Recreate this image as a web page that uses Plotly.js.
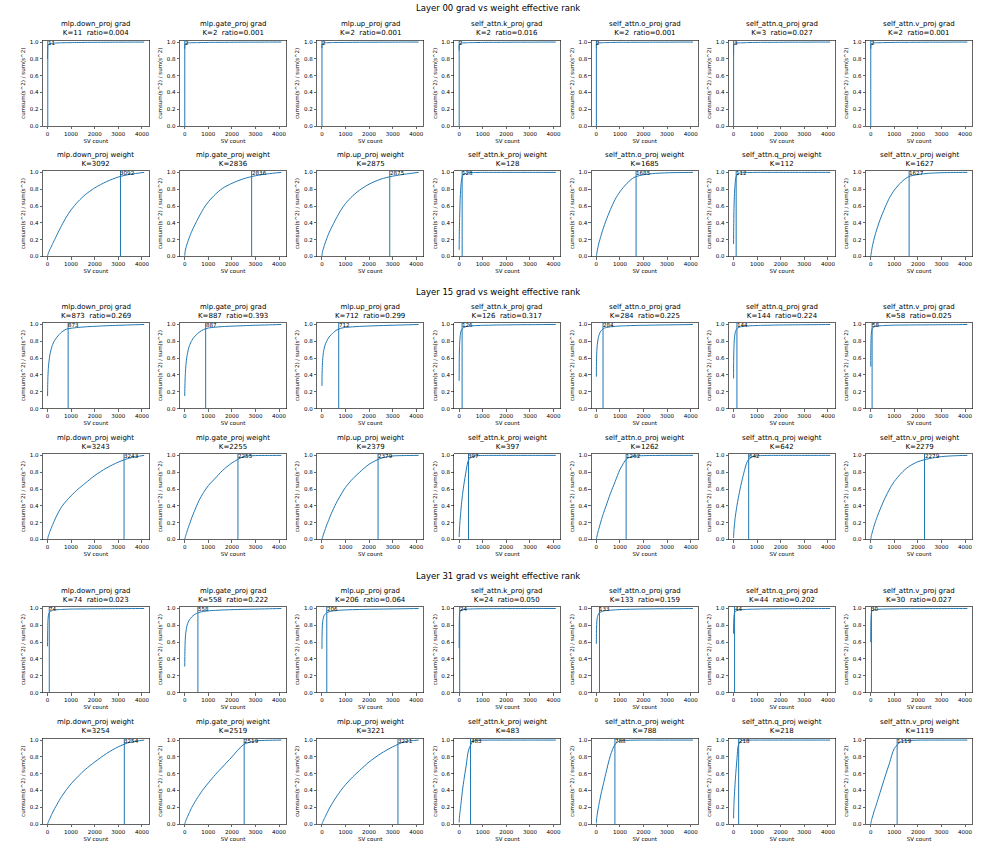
<!DOCTYPE html>
<html><head><meta charset="utf-8">
<script src="https://cdn.plot.ly/plotly-3.0.1.min.js"></script>
<style>html,body{margin:0;padding:0;background:#fff}</style>
</head><body><div id="chart" style="width:996px;height:847px"></div>
<script>
// ---- data ----
const SV_X = [1,5,10,20,40,70,100,150,200,300,400,600,800,1000,1300,1600,2000,2500,3000,3500,4096];
const MODULES = ['mlp.down_proj','mlp.gate_proj','mlp.up_proj','self_attn.k_proj','self_attn.o_proj','self_attn.q_proj','self_attn.v_proj'];
const LAYERS = ['00','15','31'];

const L00_GRAD_K = [11,2,2,2,2,3,2];
const L00_GRAD_RATIO = [0.004,0.001,0.001,0.016,0.001,0.027,0.001];
const L00_WEIGHT_K = [3092,2836,2875,128,1685,112,1627];
const L15_GRAD_K = [873,887,712,126,284,144,58];
const L15_GRAD_RATIO = [0.269,0.393,0.299,0.317,0.225,0.224,0.025];
const L15_WEIGHT_K = [3243,2255,2379,397,1262,642,2279];
const L31_GRAD_K = [74,558,206,24,133,44,30];
const L31_GRAD_RATIO = [0.023,0.222,0.064,0.050,0.159,0.202,0.027];
const L31_WEIGHT_K = [3254,2519,3221,483,788,218,1119];

const L00_GRAD_Y = [
  [0.80,0.90,0.945,0.962,0.972,0.978,0.981,0.984,0.986,0.988,0.99,0.992,0.993,0.994,0.995,0.996,0.997,0.998,0.999,0.9995,1],
  [0.92,0.965,0.973,0.979,0.984,0.987,0.989,0.99,0.991,0.992,0.993,0.994,0.995,0.996,0.997,0.997,0.998,0.999,0.999,1,1],
  [0.93,0.968,0.975,0.98,0.985,0.988,0.99,0.991,0.992,0.993,0.994,0.995,0.996,0.996,0.997,0.998,0.998,0.999,0.999,1,1],
  [0.90,0.96,0.97,0.977,0.982,0.986,0.988,0.99,0.991,0.992,0.993,0.994,0.995,0.996,0.997,0.997,0.998,0.999,0.999,1,1],
  [0.93,0.97,0.977,0.982,0.986,0.989,0.99,0.991,0.992,0.993,0.994,0.995,0.996,0.997,0.997,0.998,0.998,0.999,0.999,1,1],
  [0.85,0.955,0.966,0.974,0.98,0.984,0.987,0.989,0.99,0.991,0.992,0.994,0.995,0.996,0.997,0.997,0.998,0.999,0.999,1,1],
  [0.92,0.965,0.973,0.979,0.984,0.987,0.989,0.99,0.991,0.992,0.993,0.994,0.995,0.996,0.997,0.997,0.998,0.999,0.999,1,1]
];
const L00_WEIGHT_Y = [
  [0.005,0.012,0.018,0.026,0.042,0.062,0.082,0.112,0.142,0.2,0.258,0.37,0.47,0.555,0.655,0.735,0.815,0.89,0.945,0.977,1],
  [0.01,0.03,0.042,0.062,0.09,0.122,0.15,0.19,0.23,0.3,0.36,0.47,0.57,0.65,0.74,0.81,0.87,0.925,0.96,0.982,1],
  [0.005,0.02,0.03,0.05,0.075,0.1,0.13,0.17,0.21,0.28,0.34,0.45,0.55,0.63,0.72,0.79,0.86,0.92,0.955,0.978,1],
  [0.08,0.2,0.3,0.45,0.65,0.82,0.91,0.96,0.98,0.99,0.995,0.998,0.999,1,1,1,1,1,1,1,1],
  [0.002,0.01,0.02,0.04,0.07,0.11,0.15,0.2,0.25,0.34,0.42,0.56,0.68,0.77,0.87,0.94,0.972,0.988,0.995,0.998,1],
  [0.15,0.3,0.42,0.57,0.75,0.87,0.94,0.97,0.985,0.993,0.996,0.998,0.999,1,1,1,1,1,1,1,1],
  [0.002,0.01,0.02,0.04,0.075,0.12,0.16,0.22,0.27,0.36,0.44,0.58,0.7,0.79,0.885,0.948,0.975,0.99,0.996,0.999,1]
];
const L15_GRAD_Y = [
  [0.15,0.25,0.32,0.4,0.5,0.58,0.64,0.7,0.75,0.81,0.85,0.91,0.945,0.955,0.965,0.972,0.978,0.985,0.99,0.995,1],
  [0.15,0.24,0.3,0.38,0.48,0.57,0.63,0.7,0.75,0.81,0.85,0.905,0.94,0.958,0.968,0.975,0.98,0.986,0.991,0.995,1],
  [0.27,0.38,0.45,0.53,0.61,0.68,0.72,0.77,0.8,0.85,0.88,0.93,0.955,0.965,0.972,0.977,0.982,0.987,0.991,0.995,1],
  [0.33,0.55,0.66,0.76,0.85,0.91,0.935,0.955,0.965,0.975,0.98,0.985,0.988,0.99,0.992,0.994,0.995,0.997,0.998,0.999,1],
  [0.38,0.52,0.6,0.68,0.76,0.82,0.86,0.9,0.925,0.952,0.962,0.972,0.978,0.982,0.985,0.988,0.99,0.993,0.995,0.997,1],
  [0.36,0.55,0.65,0.75,0.84,0.9,0.93,0.952,0.962,0.972,0.977,0.982,0.986,0.988,0.99,0.992,0.994,0.996,0.997,0.998,1],
  [0.5,0.7,0.79,0.87,0.925,0.955,0.965,0.972,0.977,0.982,0.985,0.988,0.99,0.992,0.993,0.994,0.995,0.996,0.997,0.998,1]
];
const L15_WEIGHT_Y = [
  [0.002,0.008,0.014,0.025,0.045,0.07,0.095,0.13,0.165,0.23,0.29,0.39,0.46,0.52,0.6,0.67,0.76,0.85,0.92,0.97,1],
  [0.002,0.008,0.014,0.025,0.045,0.07,0.1,0.14,0.18,0.26,0.33,0.46,0.56,0.64,0.73,0.82,0.91,0.985,0.998,0.999,1],
  [0.002,0.007,0.012,0.022,0.04,0.065,0.09,0.13,0.17,0.24,0.31,0.43,0.53,0.62,0.72,0.8,0.895,0.965,0.993,0.998,1],
  [0.03,0.07,0.1,0.15,0.23,0.33,0.42,0.55,0.65,0.82,0.945,0.99,0.997,0.999,1,1,1,1,1,1,1],
  [0.002,0.008,0.015,0.03,0.055,0.09,0.12,0.17,0.22,0.31,0.39,0.55,0.69,0.83,0.962,0.99,0.997,0.999,1,1,1],
  [0.02,0.05,0.08,0.12,0.18,0.26,0.32,0.41,0.49,0.63,0.75,0.935,0.985,0.995,0.999,1,1,1,1,1,1],
  [0.003,0.01,0.02,0.035,0.06,0.09,0.12,0.17,0.21,0.29,0.36,0.49,0.6,0.69,0.79,0.865,0.925,0.963,0.985,0.995,1]
];
const L31_GRAD_Y = [
  [0.55,0.72,0.8,0.87,0.92,0.948,0.96,0.97,0.976,0.982,0.985,0.989,0.991,0.993,0.994,0.995,0.996,0.997,0.998,0.999,1],
  [0.31,0.45,0.53,0.62,0.7,0.76,0.8,0.84,0.865,0.9,0.925,0.953,0.965,0.972,0.978,0.982,0.986,0.99,0.993,0.996,1],
  [0.52,0.66,0.73,0.8,0.86,0.9,0.92,0.937,0.949,0.96,0.967,0.975,0.98,0.983,0.986,0.988,0.991,0.993,0.995,0.997,1],
  [0.53,0.8,0.89,0.945,0.97,0.98,0.985,0.988,0.99,0.992,0.993,0.995,0.996,0.997,0.998,0.998,0.999,0.999,1,1,1],
  [0.58,0.72,0.78,0.84,0.89,0.92,0.94,0.953,0.96,0.97,0.975,0.98,0.984,0.987,0.99,0.992,0.994,0.996,0.997,0.998,1],
  [0.7,0.82,0.87,0.91,0.947,0.962,0.97,0.976,0.98,0.984,0.987,0.99,0.992,0.993,0.995,0.996,0.997,0.998,0.999,0.999,1],
  [0.6,0.8,0.87,0.92,0.96,0.975,0.98,0.985,0.988,0.99,0.992,0.994,0.995,0.996,0.997,0.998,0.998,0.999,0.999,1,1]
];
const L31_WEIGHT_Y = [
  [0.002,0.006,0.01,0.018,0.032,0.05,0.068,0.1,0.13,0.185,0.235,0.33,0.41,0.48,0.57,0.65,0.74,0.84,0.92,0.975,1],
  [0.002,0.007,0.012,0.02,0.036,0.057,0.077,0.11,0.14,0.2,0.25,0.34,0.42,0.49,0.59,0.68,0.8,0.947,0.99,0.997,1],
  [0.001,0.005,0.009,0.016,0.03,0.048,0.065,0.095,0.125,0.18,0.23,0.32,0.4,0.47,0.56,0.64,0.74,0.84,0.92,0.98,1],
  [0.02,0.05,0.07,0.1,0.15,0.22,0.3,0.42,0.52,0.7,0.88,0.99,0.997,0.999,1,1,1,1,1,1,1],
  [0.01,0.03,0.05,0.08,0.12,0.17,0.22,0.29,0.36,0.48,0.6,0.82,0.952,0.99,0.997,0.999,1,1,1,1,1],
  [0.07,0.13,0.18,0.25,0.36,0.5,0.62,0.79,0.935,0.99,0.997,0.999,1,1,1,1,1,1,1,1,1],
  [0.003,0.01,0.018,0.03,0.055,0.085,0.11,0.16,0.2,0.29,0.38,0.56,0.73,0.9,0.985,0.995,0.999,1,1,1,1]
];

// ---- build ----
const ROWS = [
  {kind:'grad',   K:L00_GRAD_K,   ratio:L00_GRAD_RATIO, Y:L00_GRAD_Y},
  {kind:'weight', K:L00_WEIGHT_K, ratio:null,           Y:L00_WEIGHT_Y},
  {kind:'grad',   K:L15_GRAD_K,   ratio:L15_GRAD_RATIO, Y:L15_GRAD_Y},
  {kind:'weight', K:L15_WEIGHT_K, ratio:null,           Y:L15_WEIGHT_Y},
  {kind:'grad',   K:L31_GRAD_K,   ratio:L31_GRAD_RATIO, Y:L31_GRAD_Y},
  {kind:'weight', K:L31_WEIGHT_K, ratio:null,           Y:L31_WEIGHT_Y}
];
const W = 996, H = 847;
const COL_L = 42.7, COL_STEP = 137.2, AX_W = 106.3;
const ROW_TOP = [40.4, 170.7, 322.8, 453.7, 606.8, 738.4];
const AX_H = 85.8;
const SECTION_Y = [8, 292, 576];
const FONT = 'DejaVu Sans, sans-serif';
const BLUE = '#1f77b4';

const traces = [], annotations = [], shapes = [];
const layout = {
  width: W, height: H, margin: {l:0, r:0, t:0, b:0},
  paper_bgcolor: '#fff', plot_bgcolor: '#fff',
  showlegend: false, font: {family: FONT, color: '#000'}
};
const NBSP = '\u00a0';
let n = 0;
ROWS.forEach((row, r) => {
  for (let c = 0; c < 7; c++) {
    n++;
    const xa = n === 1 ? 'x' : 'x' + n, ya = n === 1 ? 'y' : 'y' + n;
    const L = COL_L + COL_STEP * c, T = ROW_TOP[r];
    layout['xaxis' + (n === 1 ? '' : n)] = {
      domain: [L / W, (L + AX_W) / W], anchor: ya,
      range: [-204.75, 4300.75], tickvals: [0,1000,2000,3000,4000],
      ticks: 'outside', ticklen: 2.5, tickwidth: 0.6, tickcolor: '#000',
      tickfont: {size: 5.5, family: FONT, color: '#000'},
      showline: true, mirror: true, linewidth: 0.7, linecolor: '#222',
      showgrid: false, zeroline: false, fixedrange: true,
      title: {text: 'SV count', font: {size: 5.5, family: FONT, color: '#000'}, standoff: 2}
    };
    layout['yaxis' + (n === 1 ? '' : n)] = {
      domain: [1 - (T + AX_H) / H, 1 - T / H], anchor: xa,
      range: [0, 1.02], tickvals: [0,0.2,0.4,0.6,0.8,1.0], tickformat: '.1f',
      ticks: 'outside', ticklen: 2.5, tickwidth: 0.6, tickcolor: '#000',
      tickfont: {size: 5.5, family: FONT, color: '#000'},
      showline: true, mirror: true, linewidth: 0.7, linecolor: '#222',
      showgrid: false, zeroline: false, fixedrange: true,
      title: {text: 'cumsum(s^2) / sum(s^2)', font: {size: 5.5, family: FONT, color: '#000'}, standoff: 3}
    };
    traces.push({
      type: 'scatter', mode: 'lines', x: SV_X, y: row.Y[c],
      xaxis: xa, yaxis: ya, line: {color: BLUE, width: 1, shape: 'spline', smoothing: 0.8},
      hoverinfo: 'skip'
    });
    const K = row.K[c];
    shapes.push({
      type: 'line', xref: xa, yref: ya + ' domain', x0: K, x1: K, y0: 0, y1: 1,
      line: {color: BLUE, width: 1}
    });
    annotations.push({
      xref: xa, yref: ya, x: K, y: 0.99, xanchor: 'left', yanchor: 'middle',
      text: String(K), showarrow: false, borderpad: 0, xshift: -1,
      font: {size: 5.6, family: FONT, color: '#000'}
    });
    const line2 = row.kind === 'grad'
      ? 'K=' + K + NBSP + ' ratio=' + row.ratio[c].toFixed(3)
      : 'K=' + K;
    annotations.push({
      xref: xa + ' domain', yref: ya + ' domain', x: 0.5, y: 1,
      xanchor: 'center', yanchor: 'bottom', yshift: 1,
      text: MODULES[c] + ' ' + row.kind + '<br>' + line2, showarrow: false,
      font: {size: 7, family: FONT, color: '#000'}
    });
  }
});
LAYERS.forEach((lay, i) => {
  annotations.push({
    xref: 'paper', yref: 'paper', x: 0.5, y: 1 - SECTION_Y[i] / H,
    xanchor: 'center', yanchor: 'middle', showarrow: false,
    text: 'Layer ' + lay + ' grad vs weight effective rank',
    font: {size: 8.5, family: FONT, color: '#000'}
  });
});
layout.annotations = annotations;
layout.shapes = shapes;
Plotly.newPlot('chart', traces, layout, {staticPlot: true, displayModeBar: false});
</script>
</body></html>
